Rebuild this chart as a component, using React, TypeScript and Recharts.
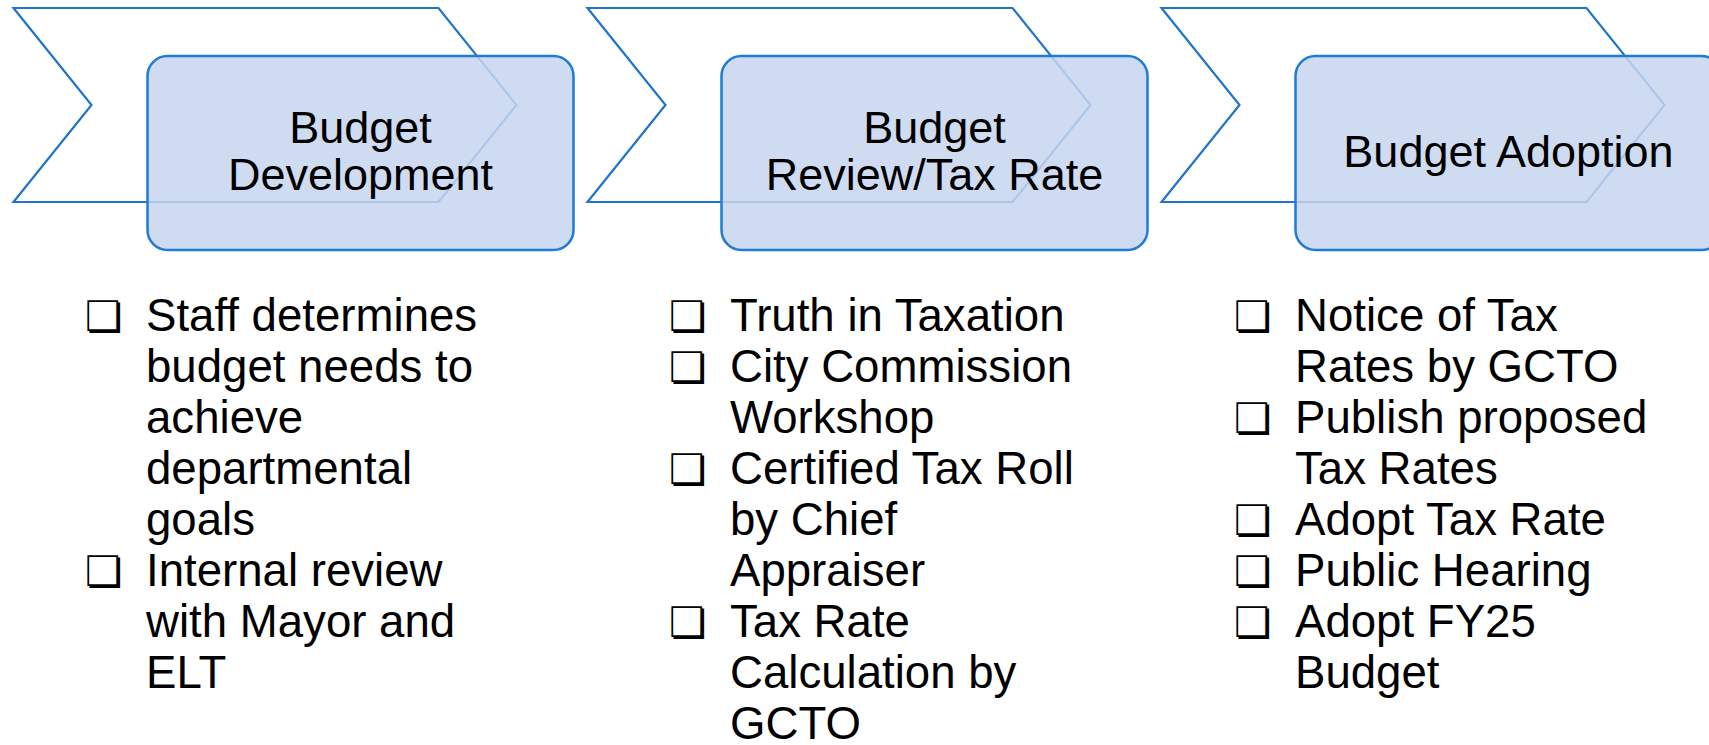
import React from "react";
import { ScatterChart, Scatter, XAxis, YAxis } from "recharts";

// ---------- data ----------
const stageIndex = [0, 1, 2];

const stageTitles: string[][] = [
  ["Budget", "Development"],
  ["Budget", "Review/Tax Rate"],
  ["Budget Adoption"],
];

// each stage: list of bullet items, each item already split into its visual lines
const stageItems: string[][][] = [
  [
    ["Staff determines", "budget needs to", "achieve", "departmental", "goals"],
    ["Internal review", "with Mayor and", "ELT"],
  ],
  [
    ["Truth in Taxation"],
    ["City Commission", "Workshop"],
    ["Certified Tax Roll", "by Chief", "Appraiser"],
    ["Tax Rate", "Calculation by", "GCTO"],
  ],
  [
    ["Notice of Tax", "Rates by GCTO"],
    ["Publish proposed", "Tax Rates"],
    ["Adopt Tax Rate"],
    ["Public Hearing"],
    ["Adopt FY25", "Budget"],
  ],
];

const BULLET = "\u274F";

// ---------- layout (pixels) ----------
const W = 1709;
const H = 745;
const STAGE_PX = 574; // distance between stages
const FIRST_STAGE_LEFT = 13.5;
const ROW_PX = 51; // line pitch of the bullet lists
const FIRST_ROW_BASELINE = 331;
const HEADER_MID = 105;

const X_MIN = -FIRST_STAGE_LEFT / STAGE_PX;
const X_MAX = X_MIN + W / STAGE_PX;
const Y_MIN = -FIRST_ROW_BASELINE / ROW_PX;
const Y_MAX = Y_MIN + H / ROW_PX;
const HEADER_ROW = (HEADER_MID - FIRST_ROW_BASELINE) / ROW_PX;

const LIST_TEXT_OFFSET = [132.5, 142.5, 133.5];
const BULLET_GAP = 58;

const FONT = "'Liberation Sans', Arial, Helvetica, sans-serif";
const CHEVRON_STROKE = "#1f74cb";
const BOX_STROKE = "#1f7bd3";
const BOX_FILL = "#c6d5ee";

// ---------- derived rows ----------
const headerData = stageIndex.map((s) => ({ x: s, y: HEADER_ROW, title: stageTitles[s] }));

const lineData: { x: number; y: number; text: string; bullet: boolean }[] = [];
stageIndex.forEach((s) => {
  let row = 0;
  stageItems[s].forEach((item) => {
    item.forEach((line, li) => {
      lineData.push({ x: s, y: row, text: line, bullet: li === 0 });
      row += 1;
    });
  });
});

const HeaderShape = (props: any) => {
  const { cx, cy, payload } = props;
  const x0 = cx;
  const top = cy - 97;
  const bot = cy + 97;
  const pts = [
    [x0, top],
    [x0 + 425, top],
    [x0 + 503, cy],
    [x0 + 425, bot],
    [x0, bot],
    [x0 + 78, cy],
  ]
    .map((p) => p.join(","))
    .join(" ");
  const bx = x0 + 134;
  const by = cy - 49;
  const bw = 426;
  const bh = 194;
  const ccx = bx + bw / 2;
  const ccy = by + bh / 2;
  const lines: string[] = payload.title;
  const n = lines.length;
  return (
    <g>
      <polygon points={pts} fill="none" stroke={CHEVRON_STROKE} strokeWidth={2.2} strokeLinejoin="miter" />
      <rect
        x={bx}
        y={by}
        width={bw}
        height={bh}
        rx={20}
        ry={20}
        fill={BOX_FILL}
        fillOpacity={0.85}
        stroke={BOX_STROKE}
        strokeWidth={2.5}
      />
      {lines.map((t, k) => (
        <text
          key={k}
          x={ccx}
          y={ccy + 13.5 + (k - (n - 1) / 2) * 47}
          textAnchor="middle"
          fontFamily={FONT}
          fontSize={45}
          fill="#000"
        >
          {t}
        </text>
      ))}
    </g>
  );
};

const LineShape = (props: any) => {
  const { cx, cy, payload } = props;
  const tx = cx + LIST_TEXT_OFFSET[payload.x];
  return (
    <g>
      {payload.bullet && (
        <text x={tx - BULLET_GAP - 3} y={cy} fontFamily="'DejaVu Sans', sans-serif" fontSize={42} fill="#000">
          {BULLET}
        </text>
      )}
      <text x={tx} y={cy} fontFamily={FONT} fontSize={45.6} fill="#000">
        {payload.text}
      </text>
    </g>
  );
};

export default function App() {
  return (
    <div
      style={{
        position: "absolute",
        left: 0,
        top: 0,
        width: W,
        height: H,
        overflow: "hidden",
        background: "#ffffff",
      }}
    >
      <ScatterChart width={W} height={H} margin={{ top: 0, right: 0, bottom: 0, left: 0 }}>
        <XAxis type="number" dataKey="x" domain={[X_MIN, X_MAX]} hide />
        <YAxis type="number" dataKey="y" domain={[Y_MIN, Y_MAX]} reversed hide />
        <Scatter data={headerData} shape={HeaderShape} isAnimationActive={false} />
        <Scatter data={lineData} shape={LineShape} isAnimationActive={false} />
      </ScatterChart>
    </div>
  );
}
